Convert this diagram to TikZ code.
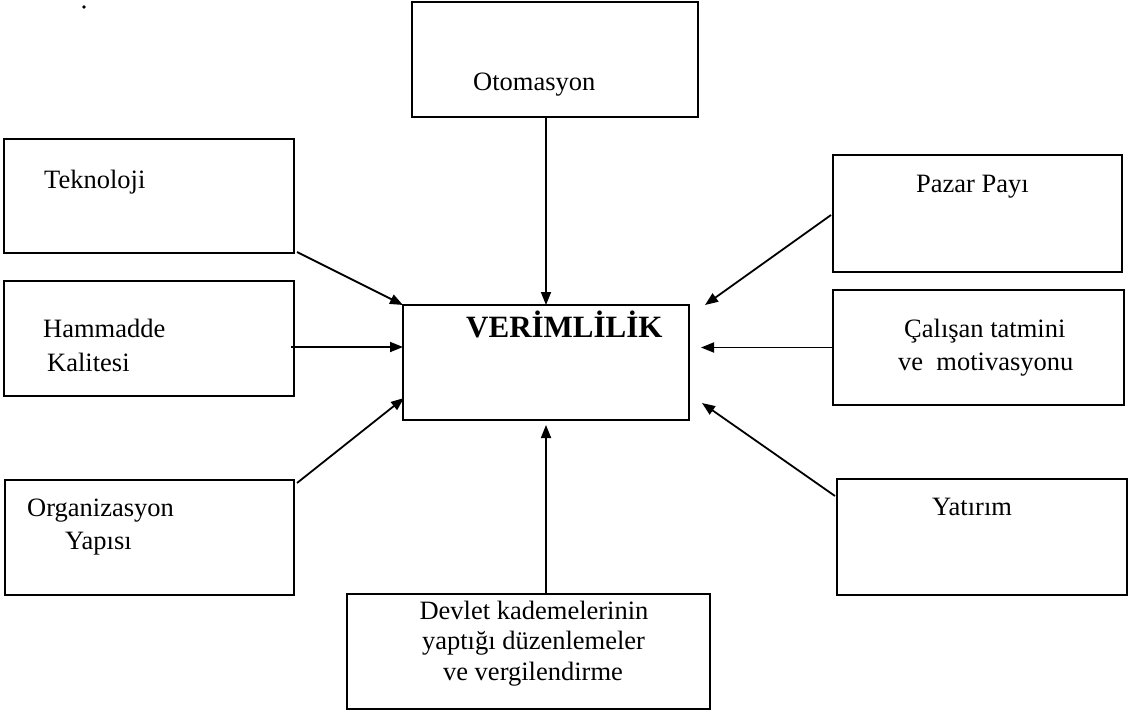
\documentclass[tikz,border=0pt]{standalone}
\usepackage{fontspec}
\setmainfont{Liberation Serif}
\usetikzlibrary{arrows.meta,calc}
\begin{document}
\begin{tikzpicture}[x=1pt,y=-1pt,
  box/.style={draw,line width=2pt,inner sep=0pt,outer sep=0pt},
  lbl/.style={anchor=base west,inner sep=0pt,font=\fontsize{26.5}{31}\selectfont},
  arr/.style={line width=1.8pt,-{Triangle[length=13pt,width=10pt]}}]
\useasboundingbox (0,0) rectangle (1132,712);
% boxes
\node[box,minimum width=286pt,minimum height=115pt] (oto) at (555,59.5) {};
\node[box,minimum width=290pt,minimum height=114pt] (tek) at (149,196) {};
\node[box,minimum width=290pt,minimum height=115pt] (ham) at (149,338.5) {};
\node[box,minimum width=289pt,minimum height=115pt] (org) at (149.5,537.5) {};
\node[box,minimum width=286pt,minimum height=115pt] (ver) at (546,362.5) {};
\node[box,minimum width=289pt,minimum height=117pt] (paz) at (977.5,213.5) {};
\node[box,minimum width=291pt,minimum height=115pt] (cal) at (978.5,347.5) {};
\node[box,minimum width=290pt,minimum height=116pt] (yat) at (982,537) {};
\node[box,minimum width=363pt,minimum height=115pt] (dev) at (528.5,651.5) {};
% texts
\node[lbl] (toto) at (473,90) {Otomasyon};
\node[lbl] (ttek) at (44,188) {Teknoloji};
\node[lbl] (tham1) at (43,337) {Hammadde};
\node[lbl] (tham2) at (47,371) {Kalitesi};
\node[lbl] (torg1) at (27,516) {Organizasyon};
\node[lbl] (torg2) at (65,549) {Yapısı};
\node[lbl,font=\fontsize{31}{36}\selectfont\bfseries] (tver) at (466,337) {VERİMLİLİK};
\node[lbl] (tpaz) at (916,192) {Pazar Payı};
\node[lbl] (tcal1) at (904,337) {Çalışan tatmini};
\node[lbl] (tcal2) at (898,370) {ve~~motivasyonu};
\node[lbl] (tyat) at (932,515) {Yatırım};
\node[lbl,anchor=base] (tdev1) at (534,619) {Devlet kademelerinin};
\node[lbl,anchor=base] (tdev2) at (533.5,649) {yaptığı düzenlemeler};
\node[lbl,anchor=base] (tdev3) at (533,680) {ve vergilendirme};
% arrows
\draw[arr] (ver.north |- oto.south) -- (ver.north);
\draw[arr] ($(tek.south east)+(3,-1)$) -- (ver.north west);
\draw[arr] ($(ham.east)+(-3,8.5)$) -- ($(ham.east -| ver.west)+(0,8.5)$);
\draw[arr] ($(org.north east)+(3,3)$) -- ($(ver.south west)+(1,-22)$);
\draw[arr] ($(paz.west)+(-2,1.5)$) -- ($(ver.north east)+(16,0)$);
\draw[arr] (cal.west) -- ($(cal.west -| ver.east)+(12,0)$);
\draw[arr] ($(yat.north west)+(-2,17)$) -- ($(ver.south east)+(13,-17)$);
\draw[arr] (ver.south |- dev.north) -- ($(ver.south)+(0,5)$);
% speck
\fill (84,7) circle (1.8);
\end{tikzpicture}
\end{document}
